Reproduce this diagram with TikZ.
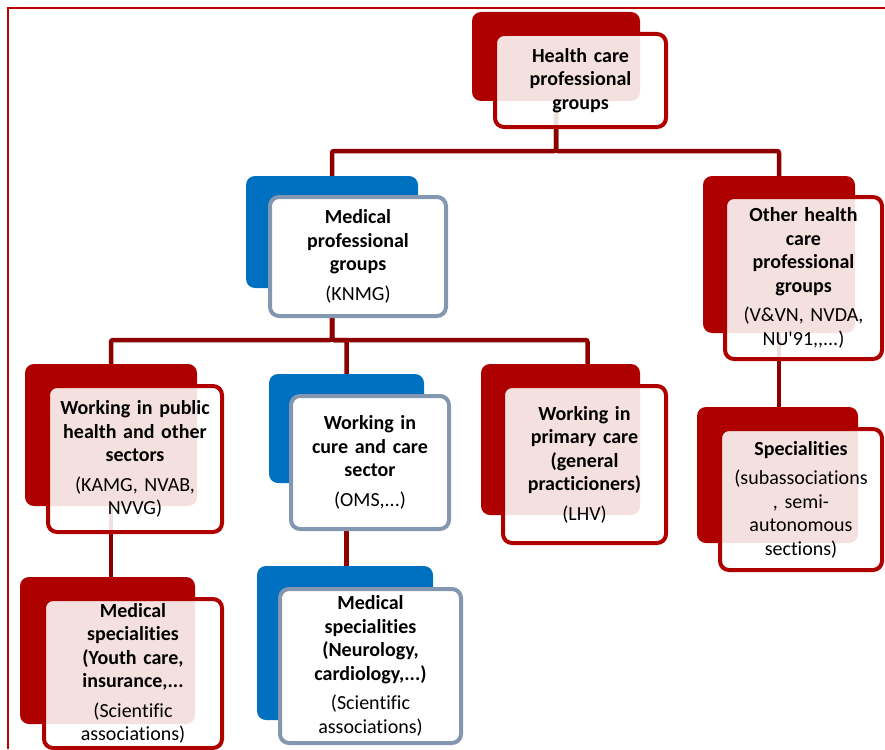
\documentclass[tikz,border=0pt]{standalone}
\usepackage{fontspec}
\setmainfont{Carlito}[Ligatures={TeXOff,NoCommon}]
\usetikzlibrary{positioning,calc,backgrounds}
\definecolor{DeepRed}{RGB}{175,0,0}
\definecolor{LinkRed}{RGB}{140,0,0}
\definecolor{FrameRed}{RGB}{192,0,0}
\definecolor{MidBlue}{RGB}{0,112,192}
\definecolor{SlateBlue}{RGB}{132,151,176}
\tikzset{
  redback/.style={
    fill=DeepRed,
    rounded corners=9pt,
    inner sep=0pt,
    outer sep=0pt
  },
  blueback/.style={redback,fill=MidBlue},
  redbox/.style={
    draw=DeepRed,
    line width=4pt,
    fill=white,
    fill opacity=0.88,
    text opacity=1,
    rounded corners=9pt,
    inner sep=0pt,
    text width=154pt,
    align=center,
    font=\fontsize{20}{23.5}\selectfont
  },
  bluebox/.style={redbox,draw=SlateBlue,fill opacity=1},
  link/.style={draw=LinkRed,line width=4.5pt,rounded corners=2pt}
}

\begin{document}
\begin{tikzpicture}[x=1pt,y=1pt]
    \useasboundingbox (0,0) rectangle (885,-749);
    \draw[FrameRed,line width=2.5pt] (8,-749) -- (8,-8) -- (885,-8);

    % back shapes
    \node[redback,minimum width=168pt,minimum height=89pt] (hc) at (556,-56.5) {};
    \node[blueback,minimum width=172pt,minimum height=112pt] (med) at (332,-232) {};
    \node[redback,minimum width=152pt,minimum height=157pt] (oth) at (779,-254.5) {};
    \node[redback,minimum width=172pt,minimum height=142pt] (pub) at (111,-435) {};
    \node[blueback,minimum width=155pt,minimum height=109pt] (cure) at (346.5,-428.5) {};
    \node[redback,minimum width=159pt,minimum height=151pt] (prim) at (560.5,-439.5) {};
    \node[redback,minimum width=161pt,minimum height=136pt] (spec) at (777.5,-475) {};
    \node[redback,minimum width=175pt,minimum height=147pt] (youth) at (107.5,-650.5) {};
    \node[blueback,minimum width=176pt,minimum height=154pt] (neuro) at (345,-643) {};

    % front boxes
    \node[redbox,minimum width=171pt,minimum height=93pt,below right=20pt and 21pt of hc.north west] (hcbox)
      {\textbf{Health care\\professional\\groups}};
    \node[bluebox,minimum width=176pt,minimum height=119pt,below right=19pt and 22pt of med.north west] (medbox)
      {\textbf{Medical\\professional\\groups}\\[6pt](KNMG)};
    \node[redbox,minimum width=157pt,minimum height=162pt,below right=19pt and 20pt of oth.north west] (othbox)
      {\textbf{Other health\\care\\professional\\groups}\\[6pt](V\&VN, NVDA,\\NU'91,,...)};
    \node[redbox,minimum width=174pt,minimum height=146pt,below right=20pt and 21pt of pub.north west] (pubbox)
      {\textbf{Working in public\\health and other\\sectors}\\[6pt](KAMG, NVAB,\\NVVG)};
    \node[bluebox,minimum width=158pt,minimum height=133pt,below right=20pt and 20pt of cure.north west] (curebox)
      {\textbf{Working in\\cure and care\\sector}\\[6pt](OMS,...)};
    \node[redbox,minimum width=163pt,minimum height=157pt,below right=20pt and 20pt of prim.north west] (primbox)
      {\textbf{Working in\\primary care\\(general\\practicioners)}\\[6pt](LHV)};
    \node[redbox,minimum width=162pt,minimum height=141pt,below right=20pt and 21pt of spec.north west] (specbox)
      {\textbf{Specialities}\\[6pt](subassociations\\, semi-\\autonomous\\sections)};
    \node[redbox,minimum width=178pt,minimum height=149pt,below right=20pt and 22pt of youth.north west] (youthbox)
      {\textbf{Medical\\specialities\\(Youth care,\\insurance,...}\\[6pt](Scientific\\associations)};
    \node[bluebox,minimum width=181pt,minimum height=154pt,below right=21pt and 21pt of neuro.north west] (neurobox)
      {\textbf{Medical\\specialities\\(Neurology,\\cardiology,...)}\\[6pt](Scientific\\associations)};

    % connectors
    \begin{scope}[on background layer]
      \draw[link] (hc.south) -- ++(0,-50) -| (med.north);
      \draw[link] (hc.south) -- ++(0,-50) -| (oth.north);
      \draw[link] (med.south) -- ++(0,-52) -| (pub.north);
      \draw[link] (med.south) -- ++(0,-52) -| (cure.north);
      \draw[link] (med.south) -- ++(0,-52) -| ($(prim.north)+(27,0)$);
      \draw[link] (oth.south) -- (oth.south |- spec.north);
      \draw[link] (pub.south) -- (pub.south |- youth.north);
      \draw[link] (cure.south) -- (cure.south |- neuro.north);
    \end{scope}
\end{tikzpicture}
\end{document}
